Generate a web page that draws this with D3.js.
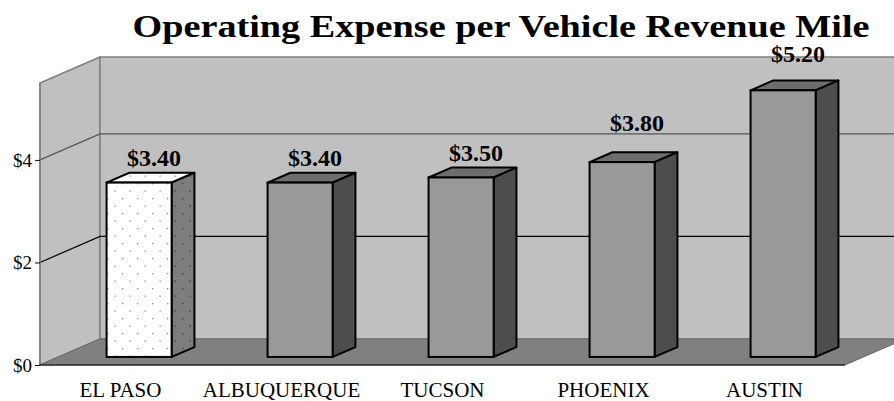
<!DOCTYPE html>
<html>
<head>
<meta charset="utf-8">
<script src="https://cdn.jsdelivr.net/npm/d3@7"></script>
<style>
	body { margin: 0; background: #fff; }
	text { font-family: "Liberation Serif", "Times New Roman", serif; }
</style>
</head>
<body>
<svg id="myGraph" width="894" height="401"></svg>
<script>
// data
var cities = ["EL PASO", "ALBUQUERQUE", "TUCSON", "PHOENIX", "AUSTIN"];
var expense = [3.40, 3.40, 3.50, 3.80, 5.20];
var tickValues = [0, 2, 4];
var chartTitle = "Operating Expense per Vehicle Revenue Mile";

var svg = d3.select("#myGraph");

// 3d depth offset (front -> back)
var DX = 60, DY = -26;
var z0 = 0.31, z1 = 0.69;

var xScale = d3.scaleBand()
	.domain(cities)
	.range([40, 845])
	.paddingInner(0.596)
	.paddingOuter(0.298);

var yScale = d3.scaleLinear()
	.domain([0, 5.5])
	.range([365, 83]);

function p(x, y, z) {
	return [x + DX * z, y + DY * z];
}
function poly(pts) {
	return pts.map(function(d){ return d.join(","); }).join(" ");
}

// pattern for el paso
var defs = svg.append("defs");
function dots(id, bg, dot) {
	var pat = defs.append("pattern")
		.attr("id", id)
		.attr("patternUnits", "userSpaceOnUse")
		.attr("width", 15).attr("height", 15);
	pat.append("rect").attr("width", 15).attr("height", 15).attr("fill", bg);
	pat.append("rect").attr("x", 2).attr("y", 3).attr("width", 1.3).attr("height", 1.3).attr("fill", dot);
	pat.append("rect").attr("x", 9.5).attr("y", 10.5).attr("width", 1.3).attr("height", 1.3).attr("fill", dot);
}
dots("dotFront", "#ffffff", "#8a8a8a");
dots("dotSide", "#7d7d7d", "#3c3c3c");

var xL = 40, xR = 845, yB = yScale(0), yT = yScale(5.5);

// walls
svg.append("polygon")
	.attr("points", poly([p(xL, yT, 0), p(xL, yT, 1), p(xL, yB, 1), p(xL, yB, 0)]))
	.attr("fill", "#c0c0c0").attr("stroke", "#808080").attr("stroke-width", 1.5);
svg.append("polygon")
	.attr("points", poly([p(xL, yT, 1), p(xR, yT, 1), p(xR, yB, 1), p(xL, yB, 1)]))
	.attr("fill", "#c0c0c0").attr("stroke", "#808080").attr("stroke-width", 1.5);
// floor
svg.append("polygon")
	.attr("points", poly([p(xL, yB, 0), p(xR, yB, 0), p(xR, yB, 1), p(xL, yB, 1)]))
	.attr("fill", "#808080").attr("stroke", "#6a6a6a").attr("stroke-width", 1);

// gridlines
tickValues.filter(function(d){ return d > 0; }).forEach(function(t){
	var y = yScale(t);
	svg.append("polyline")
		.attr("points", poly([p(xL, y, 0), p(xL, y, 1), p(xR, y, 1)]))
		.attr("fill", "none")
		.attr("stroke", t == 4 ? "#555" : "#000")
		.attr("stroke-width", 1.2);
});

// value axis
svg.append("line")
	.attr("x1", xL).attr("x2", xL).attr("y1", yT).attr("y2", yB)
	.attr("stroke", "#808080").attr("stroke-width", 1.5);
svg.append("line")
	.attr("x1", xL).attr("x2", xR).attr("y1", yB).attr("y2", yB)
	.attr("stroke", "#000").attr("stroke-width", 1.2);

var yAxis = svg.append("g")
	.attr("transform", "translate(" + xL + ",0)")
	.call(d3.axisLeft(yScale).tickValues(tickValues).tickSize(5).tickPadding(3)
		.tickFormat(function(d){ return "$" + d; }));
yAxis.select(".domain").remove();
yAxis.selectAll("text").style("font-family", "Liberation Serif").style("font-size", "19px").attr("fill", "#000");
yAxis.selectAll("line").attr("stroke", "#000");

// category labels
svg.selectAll(".cat")
	.data(cities)
	.enter()
	.append("text")
	.attr("class", "cat")
	.attr("x", function(d){ return xScale(d) + xScale.bandwidth() / 2; })
	.attr("y", 397)
	.attr("text-anchor", "middle")
	.style("font-size", "21px")
	.text(function(d){ return d; });

// bars
var bw = xScale.bandwidth();
var bars = svg.selectAll(".bar")
	.data(expense)
	.enter()
	.append("g")
	.attr("class", "bar");

bars.append("polygon")
	.attr("points", function(d, i){
		var x = xScale(cities[i]), y = yScale(d);
		return poly([p(x, y, z0), p(x + bw, y, z0), p(x + bw, y, z1), p(x, y, z1)]);
	})
	.attr("fill", function(d, i){ return i == 0 ? "url(#dotFront)" : "#6e6e6e"; })
	.attr("stroke", "#000").attr("stroke-width", 2).attr("stroke-linejoin", "round");

bars.append("polygon")
	.attr("points", function(d, i){
		var x = xScale(cities[i]) + bw, y = yScale(d);
		return poly([p(x, y, z0), p(x, y, z1), p(x, yB, z1), p(x, yB, z0)]);
	})
	.attr("fill", function(d, i){ return i == 0 ? "url(#dotSide)" : "#4d4d4d"; })
	.attr("stroke", "#000").attr("stroke-width", 2).attr("stroke-linejoin", "round");

bars.append("rect")
	.attr("x", function(d, i){ return p(xScale(cities[i]), 0, z0)[0]; })
	.attr("y", function(d){ return p(0, yScale(d), z0)[1]; })
	.attr("width", bw)
	.attr("height", function(d){ return yB - yScale(d); })
	.attr("fill", function(d, i){ return i == 0 ? "url(#dotFront)" : "#999999"; })
	.attr("stroke", "#000").attr("stroke-width", 2);

// value labels
var lift = [0, 0, 0, 14, 11];
bars.append("text")
	.attr("x", function(d, i){ return p(xScale(cities[i]) + bw / 2, 0, z0)[0] + 15; })
	.attr("y", function(d, i){ return p(0, yScale(d), z1)[1] - 7 - lift[i]; })
	.attr("text-anchor", "middle")
	.style("font-size", "24px")
	.style("font-weight", "bold")
	.text(function(d){ return "$" + d.toFixed(2); });

// title
svg.append("text")
	.attr("x", 501)
	.attr("y", 37)
	.attr("text-anchor", "middle")
	.attr("textLength", 737)
	.attr("lengthAdjust", "spacingAndGlyphs")
	.style("font-size", "32px")
	.style("font-weight", "bold")
	.text(chartTitle);
</script>
</body>
</html>
